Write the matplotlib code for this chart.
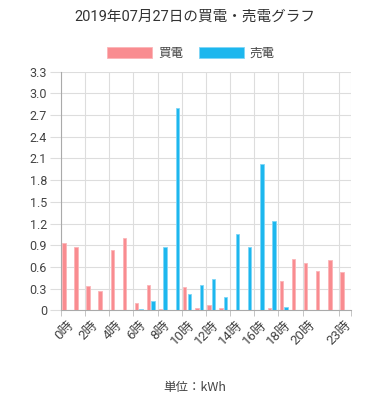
"""2019年07月27日の買電・売電グラフ."""

import matplotlib.pyplot as plt
import numpy as np

plt.rcParams["font.family"] = ["Roboto", "Noto Sans CJK JP", "DejaVu Sans"]

hours = list(range(24))
buy = [0.93, 0.87, 0.34, 0.27, 0.84, 1.00, 0.10, 0.35, 0.02, 0.00, 0.32, 0.03,
       0.07, 0.03, 0.00, 0.00, 0.00, 0.03, 0.40, 0.71, 0.66, 0.54, 0.69, 0.53]
sell = [0.00, 0.00, 0.00, 0.00, 0.00, 0.00, 0.02, 0.13, 0.88, 2.80, 0.22, 0.35,
        0.44, 0.19, 1.05, 0.87, 2.03, 1.24, 0.05, 0.00, 0.00, 0.00, 0.00, 0.00]
shown_hours = [0, 2, 4, 6, 8, 10, 12, 14, 16, 18, 20, 23]
y_ticks = [0, 0.3, 0.6, 0.9, 1.2, 1.5, 1.8, 2.1, 2.4, 2.7, 3.0, 3.3]

PINK = "#F98C90"
BLUE = "#1DB7EE"
TEXT = "#444444"

fig = plt.figure(figsize=(3.9, 4.0), dpi=100)
ax = fig.add_axes([0.156, 0.224, 0.744, 0.597])

x = np.array(hours)
ax.bar(x + 0.25, buy, width=0.28, color=PINK, edgecolor="#FBB5B8",
       linewidth=0.6, label="買電", zorder=3)
ax.bar(x + 0.63, sell, width=0.28, color=BLUE, edgecolor="#7FD6F6",
       linewidth=0.6, label="売電", zorder=3)

ax.set_xlim(0, 24)
ax.set_ylim(0, 3.3)

# gridlines at category boundaries, labels at centres
ax.set_xticks(shown_hours + [24], minor=True)
ax.set_xticks([h + 0.5 for h in shown_hours])
ax.set_xticklabels([f"{h}時" for h in shown_hours], rotation=45,
                   ha="right", rotation_mode="anchor", fontsize=9.5, color=TEXT)
ax.tick_params(axis="x", which="major", length=0, pad=6)
ax.tick_params(axis="x", which="minor", length=4, color="#bbbbbb")
ax.grid(True, axis="x", which="minor", color="#dddddd", linewidth=0.8, zorder=0)

ax.set_yticks(y_ticks)
ax.set_yticklabels(["0"] + [f"{v:.1f}" for v in y_ticks[1:]],
                   fontsize=9, color=TEXT)
ax.tick_params(axis="y", length=8, color="#dddddd", pad=2)
ax.grid(True, axis="y", color="#dddddd", linewidth=0.8, zorder=0)

for side in ["top", "right"]:
    ax.spines[side].set_visible(False)
ax.spines["left"].set_color("#aaaaaa")
ax.spines["bottom"].set_color("#aaaaaa")

fig.suptitle("2019年07月27日の買電・売電グラフ", y=0.975, fontsize=10.5,
             color="#333333")
fig.legend(loc="center", bbox_to_anchor=(0.49, 0.867), ncol=2, frameon=False,
           fontsize=9, handlelength=3.6, handleheight=1.0, columnspacing=1.2,
           handletextpad=0.5, labelcolor=TEXT)
fig.text(0.5, 0.022, "単位：kWh", ha="center", fontsize=9, color=TEXT,
         family=["Noto Sans CJK JP", "DejaVu Sans"])

fig.savefig("out.png", dpi=100)
